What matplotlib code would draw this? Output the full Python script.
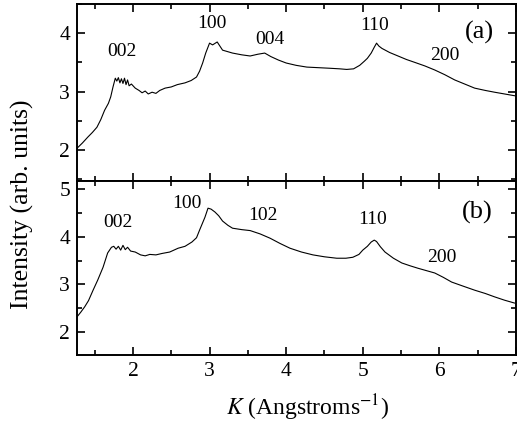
import matplotlib.pyplot as plt
from matplotlib.ticker import MultipleLocator

# panel (a)
k_a = [1.27, 1.34, 1.41, 1.47, 1.53, 1.58, 1.63, 1.68, 1.71, 1.74, 1.77, 1.79, 1.81, 1.83,
       1.85, 1.87, 1.89, 1.91, 1.93, 1.95, 1.98, 2.03, 2.08, 2.12, 2.16, 2.2, 2.25, 2.3,
       2.35, 2.42, 2.5, 2.58, 2.68, 2.76, 2.83, 2.87, 2.91, 2.95, 3.0, 3.04, 3.1, 3.17,
       3.3, 3.42, 3.53, 3.63, 3.72, 3.8, 3.9, 4.0, 4.13, 4.27, 4.42, 4.57, 4.7, 4.79,
       4.88, 4.96, 5.02, 5.06, 5.11, 5.15, 5.18, 5.21, 5.25, 5.35, 5.46, 5.57, 5.68,
       5.81, 5.94, 6.07, 6.2, 6.33, 6.46, 6.6, 6.72, 6.85, 6.98]
i_a = [2.03, 2.12, 2.22, 2.3, 2.39, 2.52, 2.68, 2.8, 2.91, 3.08, 3.23, 3.18, 3.24, 3.15,
       3.22, 3.14, 3.23, 3.12, 3.2, 3.1, 3.13, 3.06, 3.02, 2.98, 3.01, 2.96, 2.99, 2.97,
       3.02, 3.06, 3.08, 3.12, 3.15, 3.19, 3.25, 3.35, 3.49, 3.66, 3.83, 3.8, 3.85, 3.71,
       3.66, 3.63, 3.61, 3.64, 3.66, 3.6, 3.54, 3.49, 3.45, 3.42, 3.41, 3.4, 3.39, 3.38,
       3.39, 3.45, 3.52, 3.57, 3.66, 3.76, 3.83, 3.78, 3.74, 3.67, 3.61, 3.55, 3.5,
       3.44, 3.37, 3.29, 3.2, 3.13, 3.06, 3.02, 2.99, 2.96, 2.93]

# panel (b)
k_b = [1.27, 1.32, 1.37, 1.42, 1.48, 1.54, 1.61, 1.67, 1.72, 1.75, 1.78, 1.81, 1.84,
       1.87, 1.9, 1.93, 1.97, 2.03, 2.1, 2.16, 2.22, 2.3, 2.38, 2.48, 2.59, 2.68, 2.77,
       2.83, 2.87, 2.94, 2.98, 3.02, 3.07, 3.12, 3.17, 3.24, 3.3, 3.42, 3.53, 3.66,
       3.79, 3.92, 4.05, 4.2, 4.35, 4.5, 4.66, 4.78, 4.87, 4.95, 5.0, 5.06, 5.11, 5.15,
       5.18, 5.23, 5.29, 5.4, 5.51, 5.62, 5.72, 5.83, 5.94, 6.05, 6.16, 6.3, 6.46, 6.6,
       6.72, 6.85, 6.98]
i_b = [2.32, 2.42, 2.53, 2.66, 2.88, 3.09, 3.36, 3.66, 3.78, 3.8, 3.74, 3.8, 3.72,
       3.82, 3.73, 3.78, 3.7, 3.68, 3.62, 3.6, 3.63, 3.62, 3.65, 3.68, 3.76, 3.8, 3.89,
       3.98, 4.14, 4.41, 4.6, 4.58, 4.52, 4.44, 4.33, 4.24, 4.18, 4.15, 4.13, 4.06,
       3.97, 3.86, 3.76, 3.68, 3.62, 3.58, 3.55, 3.55, 3.57, 3.63, 3.72, 3.8, 3.89, 3.93,
       3.9, 3.79, 3.68, 3.55, 3.45, 3.39, 3.34, 3.29, 3.24, 3.15, 3.05, 2.97, 2.88, 2.81,
       2.74, 2.67, 2.61]

# peak labels (text, K, intensity)
labels_a = [("002", 1.86, 3.68), ("100", 3.03, 4.17), ("004", 3.79, 3.9),
            ("110", 5.16, 4.14), ("200", 6.07, 3.62)]
labels_b = [("002", 1.8, 4.29), ("100", 2.7, 4.7), ("102", 3.7, 4.45),
            ("110", 5.13, 4.37), ("200", 6.03, 3.57)]

plt.rcParams['font.family'] = ['Liberation Serif', 'DejaVu Serif']
plt.rcParams['mathtext.fontset'] = 'stix'

fig = plt.figure(figsize=(5.17, 4.28), dpi=100)
ax1 = fig.add_axes([77/517, 1-181/428, 439/517, 177/428])
ax2 = fig.add_axes([77/517, 1-355/428, 439/517, 174/428])


def style(ax):
    ax.set_xlim(1.27, 7)
    ax.xaxis.set_major_locator(MultipleLocator(1))
    ax.xaxis.set_minor_locator(MultipleLocator(0.5))
    ax.yaxis.set_major_locator(MultipleLocator(1))
    ax.yaxis.set_minor_locator(MultipleLocator(0.5))
    ax.tick_params(which='both', direction='in', top=True, right=True, width=1.2)
    ax.tick_params(which='major', length=6, labelsize=15.5, pad=5)
    ax.tick_params(which='minor', length=3.5)
    for s in ax.spines.values():
        s.set_linewidth(1.4)


ax1.plot(k_a, i_a, color='black', lw=0.8)
ax1.set_ylim(1.47, 4.5)
style(ax1)
ax1.tick_params(labelbottom=False)
for t, x, y in labels_a:
    ax1.text(x, y, t, fontsize=14, ha='center', va='center')
ax1.text(6.52, 4.02, "(a)", fontsize=19, ha='center', va='center')

ax2.plot(k_b, i_b, color='black', lw=0.8)
ax2.set_ylim(1.52, 5.17)
style(ax2)
for t, x, y in labels_b:
    ax2.text(x, y, t, fontsize=14, ha='center', va='center')
ax2.text(6.5, 4.52, "(b)", fontsize=19, ha='center', va='center')

fig.text(22/517, 1-204/428, "Intensity (arb. units)", rotation=90, fontsize=18.5,
         ha='center', va='center')
fig.text(308/517, 1-408/428, r"$K$ (Angstroms$^{\mathrm{-1}}$)", fontsize=17,
         ha='center', va='center')

fig.savefig("out.png", dpi=100)
